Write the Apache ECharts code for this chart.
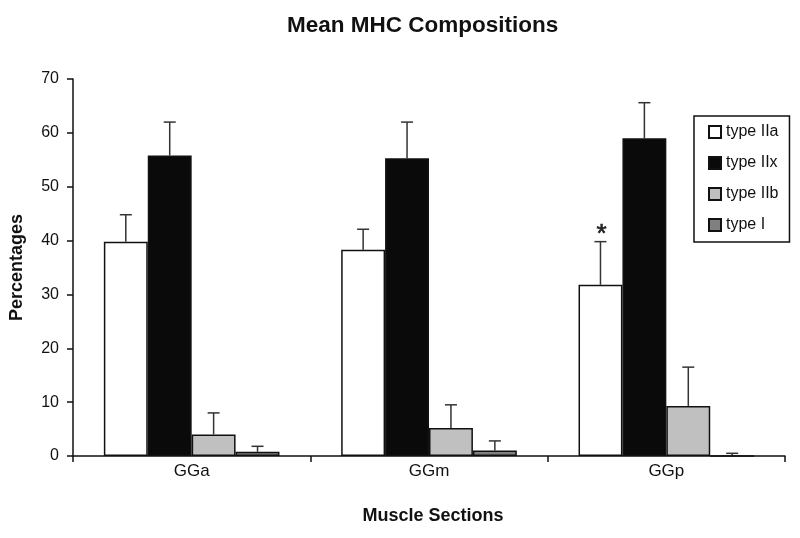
<!DOCTYPE html>
<html><head><meta charset="utf-8">
<script src="https://cdn.jsdelivr.net/npm/echarts@6/dist/echarts.min.js"></script>
<style>html,body{margin:0;padding:0;background:#fff}#c{width:800px;height:538px}</style>
</head><body><div id="c"></div>
<script>
const categories = ['GGa', 'GGm', 'GGp'];
const seriesNames = ['type IIa', 'type IIx', 'type IIb', 'type I'];
const typeIIa = [39.8, 38.3, 31.8];
const typeIIx = [55.8, 55.3, 59.0];
const typeIIb = [4.0, 5.2, 9.3];
const typeI = [0.8, 1.0, 0.0];
const errIIa = [5.0, 3.8, 8.0];
const errIIx = [6.2, 6.7, 6.6];
const errIIb = [4.0, 4.3, 7.2];
const errI = [1.0, 1.8, 0.5];
const significance = [[2, 0, '*']]; // [category, series, mark]
const yTicks = [0, 10, 20, 30, 40, 50, 60, 70];

const values = [typeIIa, typeIIx, typeIIb, typeI];
const errors = [errIIa, errIIx, errIIb, errI];
const colors = ['#ffffff', '#0a0a0a', '#c0c0c0', '#808080'];
const catGap = 0.26;

const errData = [];
values.forEach((vals, s) => vals.forEach((v, c) => {
  const sig = significance.find(x => x[0] === c && x[1] === s);
  errData.push([c, v, v + errors[s][c], s, sig ? sig[2] : '']);
}));

const chart = echarts.init(document.getElementById('c'), null, {renderer: 'canvas'});
const font = '"Liberation Sans", Arial, sans-serif';
chart.setOption({
  animation: false,
  title: {text: 'Mean MHC Compositions', left: 282, top: 9,
    textStyle: {fontFamily: font, fontWeight: 'bold', fontSize: 22.5, color: '#111'}},
  grid: {left: 73, right: 15, top: 79, bottom: 82},
  legend: {
    orient: 'vertical', left: 694, top: 116, padding: [8, 11, 9, 14],
    itemWidth: 12, itemHeight: 12, itemGap: 15, icon: 'rect',
    borderColor: '#111', borderWidth: 1.5,
    textStyle: {fontFamily: font, fontSize: 16, color: '#111'},
    data: seriesNames
  },
  xAxis: {
    type: 'category', data: categories,
    name: 'Muscle Sections', nameLocation: 'middle', nameGap: 51,
    nameTextStyle: {fontFamily: font, fontWeight: 'bold', fontSize: 18, color: '#111', padding: [0, 0, 0, 8]},
    axisLine: {lineStyle: {color: '#111', width: 1.5}},
    axisTick: {show: true, length: 6, lineStyle: {color: '#111', width: 1.5}},
    axisLabel: {fontFamily: font, fontSize: 17, color: '#111', margin: 7}
  },
  yAxis: {
    type: 'value', min: 0, max: 70, interval: 10,
    name: 'Percentages', nameLocation: 'middle', nameGap: 47,
    nameTextStyle: {fontFamily: font, fontWeight: 'bold', fontSize: 18, color: '#111'},
    axisLine: {show: true, lineStyle: {color: '#111', width: 1.5}},
    axisTick: {show: true, length: 6, lineStyle: {color: '#111', width: 1.5}},
    splitLine: {show: false},
    axisLabel: {fontFamily: font, fontSize: 16, color: '#111', margin: 14,
      formatter: v => yTicks.includes(v) ? String(v) : ''}
  },
  series: values.map((vals, s) => ({
    type: 'bar', name: seriesNames[s], data: vals,
    barGap: '0%', barCategoryGap: (catGap * 100) + '%',
    itemStyle: {color: colors[s], borderColor: '#111', borderWidth: 1.5},
    z: 2
  })).concat([{
    type: 'custom', name: 'err', data: errData, z: 1,
    encode: {x: 0, y: [1, 2]},
    renderItem: function (params, api) {
      const c = api.value(0), v = api.value(1), hi = api.value(2), s = api.value(3);
      const band = api.size([1, 0])[0];
      const bw = band * (1 - catGap) / 4;
      const center = api.coord([c, 0])[0];
      const x = center - 2 * bw + (s + 0.5) * bw;
      const y0 = api.coord([c, v])[1];
      const y1 = api.coord([c, hi])[1];
      const cap = 6;
      const st = {stroke: '#333', lineWidth: 1.5};
      const children = [
        {type: 'line', shape: {x1: x, y1: y0, x2: x, y2: y1}, style: st},
        {type: 'line', shape: {x1: x - cap, y1: y1, x2: x + cap, y2: y1}, style: st}
      ];
      const mark = errData[params.dataIndex][4];
      if (mark) {
        children.push({type: 'text', style: {text: mark, x: x + 1, y: y1 + 6,
          textAlign: 'center', textVerticalAlign: 'bottom',
          font: '26px ' + font, fill: '#222', stroke: '#222', lineWidth: 0.6}});
      }
      return {type: 'group', children: children};
    }
  }])
});
</script></body></html>
